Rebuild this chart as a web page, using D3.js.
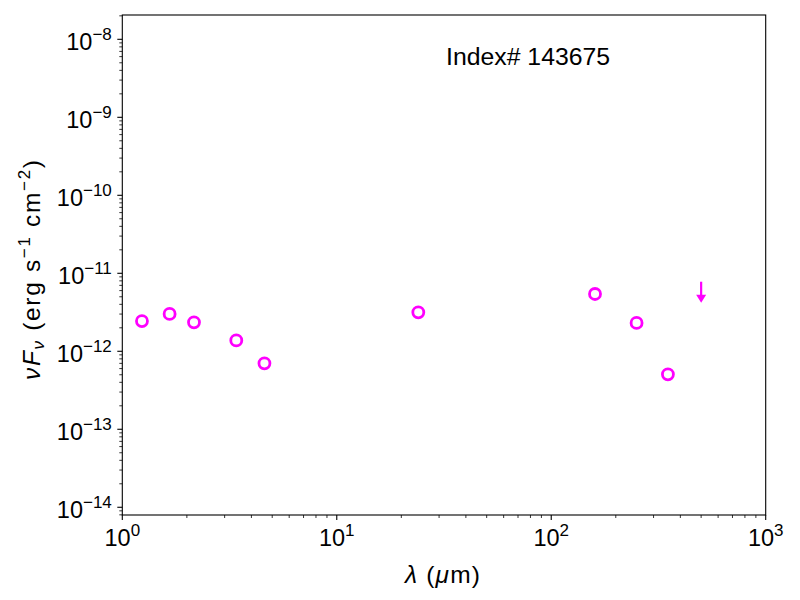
<!DOCTYPE html>
<html>
<head>
<meta charset="utf-8">
<script src="https://cdn.jsdelivr.net/npm/d3@7"></script>
<style>
  body { margin: 0; background: #fff; }
  text { font-family: "Liberation Sans", Arial, sans-serif; fill: #000; }
</style>
</head>
<body>
<script>
// Photometry points (wavelength in micron, nuFnu in erg s^-1 cm^-2)
const wavelengths = [1.235, 1.662, 2.159, 3.4, 4.6, 24, 160, 250, 350];
const fluxes = [2.44e-12, 3.01e-12, 2.35e-12, 1.38e-12, 7.0e-13, 3.16e-12, 5.43e-12, 2.31e-12, 5.07e-13];
// Upper limits
const limitWavelengths = [500];
const limitFluxes = [7.8e-12];

const xTickExps = [0, 1, 2, 3];
const yTickExps = [-14, -13, -12, -11, -10, -9, -8];
const label = "Index# 143675";

const width = 800, height = 600;
const margin = {top: 15, right: 34.3, bottom: 85, left: 122.3};
const color = "#ff00ff";

const svg = d3.select("body").append("svg")
    .attr("width", width)
    .attr("height", height);

// Scales
let x = d3.scaleLog()
    .domain([1, 1000])
    .range([margin.left, width - margin.right]);

let y = d3.scaleLog()
    .domain([7.96e-15, 2.05e-8])
    .range([height - margin.bottom, margin.top]);

// minor tick values for each decade
function minors(lo, hi) {
    let out = [];
    for (let e = lo; e < hi; e++) {
        for (let m = 2; m <= 9; m++) out.push(m * Math.pow(10, e));
    }
    return out;
}

const xMinor = minors(0, 3);
const yMinor = minors(-15, -7).filter(v => v >= y.domain()[0] && v <= y.domain()[1]);

// ----- x axis -----
const xAxisG = svg.append("g")
    .attr("transform", "translate(0," + (height - margin.bottom) + ")");

xAxisG.selectAll(".xmajor")
    .data(xTickExps)
    .enter().append("line")
    .attr("x1", d => x(Math.pow(10, d)))
    .attr("x2", d => x(Math.pow(10, d)))
    .attr("y1", 0).attr("y2", 5)
    .attr("stroke", "#000").attr("stroke-width", 1.1);

xAxisG.selectAll(".xminor")
    .data(xMinor)
    .enter().append("line")
    .attr("x1", d => x(d)).attr("x2", d => x(d))
    .attr("y1", 0).attr("y2", 3)
    .attr("stroke", "#000").attr("stroke-width", 0.8);

let xLabels = xAxisG.selectAll(".xlab")
    .data(xTickExps)
    .enter().append("text")
    .attr("x", d => x(Math.pow(10, d)))
    .attr("y", 31)
    .attr("text-anchor", "middle")
    .style("font-size", "23.5px");
xLabels.append("tspan").text("10");
xLabels.append("tspan")
    .attr("dy", -10)
    .style("font-size", "17px")
    .text(d => d < 0 ? "\u2212" + (-d) : d);

// ----- y axis -----
const yAxisG = svg.append("g")
    .attr("transform", "translate(" + margin.left + ",0)");

yAxisG.selectAll(".ymajor")
    .data(yTickExps)
    .enter().append("line")
    .attr("y1", d => y(Math.pow(10, d)))
    .attr("y2", d => y(Math.pow(10, d)))
    .attr("x1", 0).attr("x2", -5)
    .attr("stroke", "#000").attr("stroke-width", 1.1);

yAxisG.selectAll(".yminor")
    .data(yMinor)
    .enter().append("line")
    .attr("y1", d => y(d)).attr("y2", d => y(d))
    .attr("x1", 0).attr("x2", -3)
    .attr("stroke", "#000").attr("stroke-width", 0.8);

let yLabels = yAxisG.selectAll(".ylab")
    .data(yTickExps)
    .enter().append("text")
    .attr("x", -10.5)
    .attr("y", d => y(Math.pow(10, d)) + 10.7)
    .attr("text-anchor", "end")
    .style("font-size", "23.5px");
yLabels.append("tspan").text("10");
yLabels.append("tspan")
    .attr("dy", -10)
    .style("font-size", "17px")
    .text(d => "\u2212" + (-d));

// frame
svg.append("rect")
    .attr("x", margin.left)
    .attr("y", margin.top)
    .attr("width", width - margin.left - margin.right)
    .attr("height", height - margin.top - margin.bottom)
    .attr("fill", "none")
    .attr("stroke", "#000")
    .attr("stroke-width", 1.1);

// ----- axis titles -----
let xTitle = svg.append("text")
    .attr("x", 442.5)
    .attr("y", 583)
    .attr("text-anchor", "middle")
    .attr("textLength", 75)
    .attr("lengthAdjust", "spacing")
    .style("font-size", "24.5px");
xTitle.append("tspan").style("font-style", "italic").text("\u03bb");
xTitle.append("tspan").text(" (");
xTitle.append("tspan").style("font-style", "italic").text("\u03bc");
xTitle.append("tspan").text("m)");

let yTitle = svg.append("text")
    .attr("transform", "translate(40," + 270 + ") rotate(-90)")
    .attr("text-anchor", "middle")
    .attr("textLength", 220)
    .attr("lengthAdjust", "spacing")
    .style("font-size", "24.5px");
yTitle.append("tspan").style("font-style", "italic").text("\u03bdF");
yTitle.append("tspan").style("font-style", "italic").style("font-size", "17px").attr("dy", 4).text("\u03bd");
yTitle.append("tspan").attr("dy", -4).text(" (erg s");
yTitle.append("tspan").style("font-size", "17px").attr("dy", -10).text("\u22121");
yTitle.append("tspan").attr("dy", 10).text(" cm");
yTitle.append("tspan").style("font-size", "17px").attr("dy", -10).text("\u22122");
yTitle.append("tspan").attr("dy", 10).text(")");

// ----- label -----
svg.append("text")
    .attr("x", 446)
    .attr("y", 65)
    .style("font-size", "24.8px")
    .text(label);

// ----- data points -----
const points = wavelengths.map((w, i) => ({w: w, f: fluxes[i]}));

svg.selectAll(".pt")
    .data(points)
    .enter().append("circle")
    .attr("class", "pt")
    .attr("cx", d => x(d.w))
    .attr("cy", d => y(d.f))
    .attr("r", 5.5)
    .attr("fill", "none")
    .attr("stroke", color)
    .attr("stroke-width", 2.8);

// ----- upper limits -----
const limits = limitWavelengths.map((w, i) => ({w: w, f: limitFluxes[i]}));

let lim = svg.selectAll(".lim")
    .data(limits)
    .enter().append("g")
    .attr("transform", d => "translate(" + x(d.w) + "," + y(d.f) + ")");

lim.append("line")
    .attr("x1", 0).attr("x2", 0)
    .attr("y1", 0).attr("y2", 14)
    .attr("stroke", color)
    .attr("stroke-width", 2.2);

lim.append("path")
    .attr("d", "M-5,13 L5,13 L0,21 Z")
    .attr("fill", color);
</script>
</body>
</html>
